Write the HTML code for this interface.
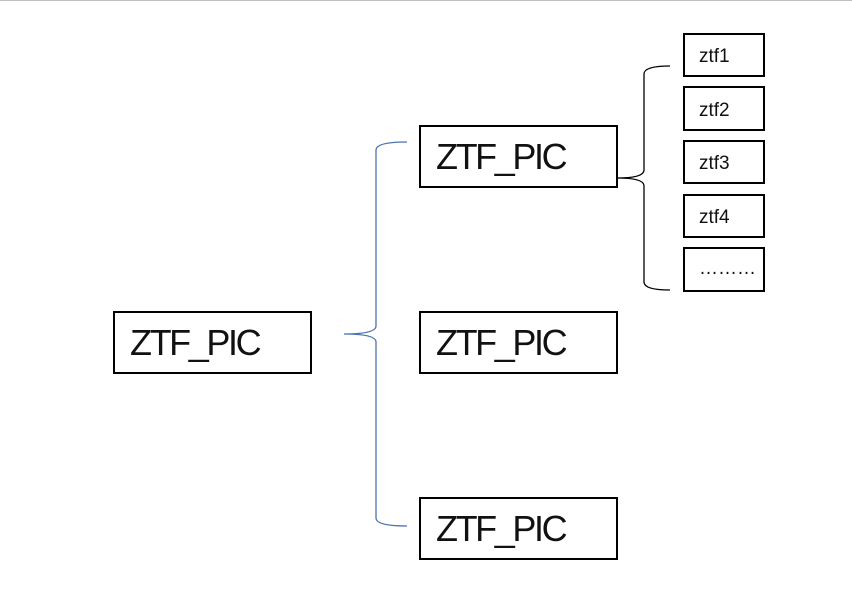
<!DOCTYPE html>
<html><head><meta charset="utf-8"><style>
body{margin:0;width:852px;height:596px;background:#fff;position:relative;overflow:hidden;font-family:"Liberation Sans","Noto Sans CJK SC",sans-serif;}
.b{position:absolute;border:2px solid #000;box-sizing:border-box;background:#fff;}
.L{font-size:36px;line-height:59px;padding-left:15px;color:#111;letter-spacing:-2.4px;}
.s{font-size:19px;padding-left:14px;color:#111;}
</style></head><body>
<div style="position:absolute;left:0;top:0;width:852px;height:1px;background:#c0c0c0"></div>
<svg width="852" height="596" style="position:absolute;left:0;top:0">
<path d="M407 142 Q376 142 376 150 L376 326 Q376 334 344 334 Q376 334 376 342 L376 518 Q376 526 407 526" fill="none" stroke="#4a72b0" stroke-width="1.3"/>
<path d="M670 66 Q644 66 644 74 L644 170 Q644 178 617 178 Q644 178 644 186 L644 282 Q644 290 670 290" fill="none" stroke="#000" stroke-width="1.3"/>
</svg>
<div class="b L" style="left:113px;top:311px;width:199px;height:63px">ZTF_PIC</div>
<div class="b L" style="left:419px;top:125px;width:199px;height:63px">ZTF_PIC</div>
<div class="b L" style="left:419px;top:311px;width:199px;height:63px">ZTF_PIC</div>
<div class="b L" style="left:419px;top:497px;width:199px;height:63px">ZTF_PIC</div>
<div class="b s" style="left:683px;top:33px;width:82px;height:44px;line-height:44px">ztf1</div>
<div class="b s" style="left:683px;top:86px;width:82px;height:45px;line-height:45px">ztf2</div>
<div class="b s" style="left:683px;top:140px;width:82px;height:44px;line-height:44px">ztf3</div>
<div class="b s" style="left:683px;top:194px;width:82px;height:44px;line-height:44px">ztf4</div>
<div class="b s" style="left:683px;top:247px;width:82px;height:45px;line-height:39px">………</div>
</body></html>
